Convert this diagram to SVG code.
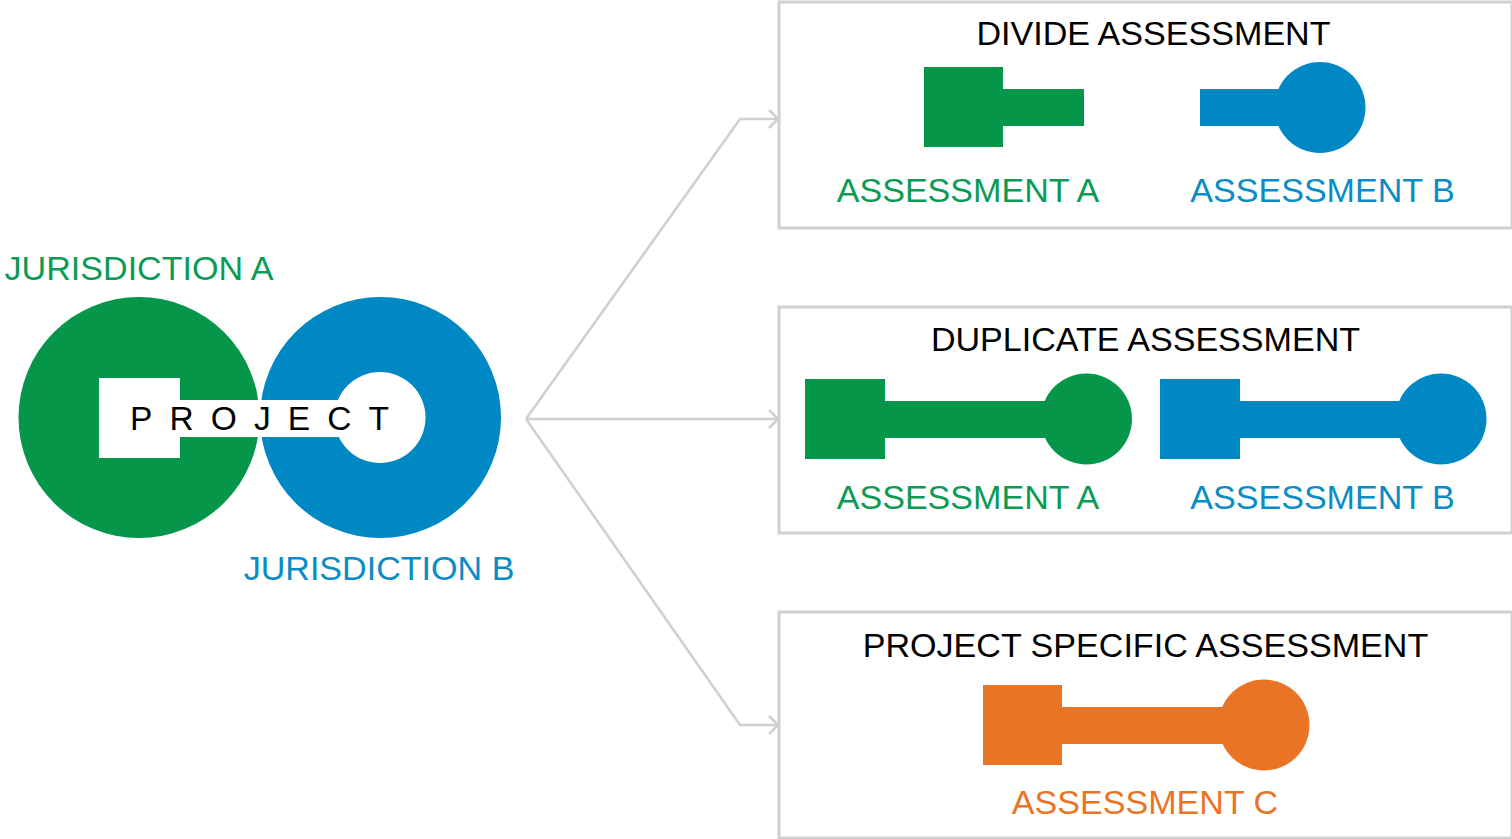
<svg xmlns="http://www.w3.org/2000/svg" width="1512" height="839" viewBox="0 0 1512 839">
<style>
text{font-family:"Liberation Sans",Arial,sans-serif;font-size:34.100px;text-anchor:middle}
.box{fill:#fff;stroke:#d0d0d0;stroke-width:3}
.conn{fill:none;stroke:#d0d0d0;stroke-width:2.600}
.g{fill:#05964a}.b{fill:#0088c4}.o{fill:#ea7425}.k{fill:#000}
.gt{fill:#0b9b54}.bt{fill:#0a8cc6}.ot{fill:#ea7425}
</style>
<rect width="1512" height="839" fill="#fff"/>
<g id="connectors" class="conn">
<path d="M526 419L740 119H778"/><path d="M526 419H778"/><path d="M526 419L740 725H778"/>
<path d="M769 110L778 119L769 128"/><path d="M769 410L778 419L769 428"/><path d="M769 716L778 725L769 734"/>
</g>
<g id="project">
<circle class="g" cx="139" cy="417.500" r="120.500"/>
<circle class="b" cx="380.500" cy="417.500" r="120.500"/>
<rect x="99" y="378" width="81" height="80" fill="#fff"/>
<rect x="180" y="400" width="170" height="37" fill="#fff"/>
<circle cx="380" cy="417.500" r="45.500" fill="#fff"/>
<text x="130" y="430" class="k" style="font-size:33.500px;letter-spacing:17.100px;text-anchor:start">PROJECT</text>
</g>
<g id="jurisdiction-a"><text x="139" y="280" class="gt">JURISDICTION A</text></g>
<g id="jurisdiction-b"><text x="379" y="580" class="bt">JURISDICTION B</text></g>
<g id="divide">
<rect class="box" x="779" y="2" width="733" height="226"/>
<text x="1153.500" y="44.500" class="k">DIVIDE ASSESSMENT</text>
<path class="g" d="M924 67H1003V89H1084V126H1003V147H924Z"/>
<rect class="b" x="1200" y="89" width="90" height="37"/><circle class="b" cx="1320" cy="107.500" r="45.500"/>
<text x="968" y="202" class="gt">ASSESSMENT A</text>
<text x="1322.500" y="202" class="bt">ASSESSMENT B</text>
</g>
<g id="duplicate">
<rect class="box" x="779" y="307" width="733" height="226"/>
<text x="1145.500" y="350.500" class="k">DUPLICATE ASSESSMENT</text>
<path class="g" d="M805 379H885V401H1060V438H885V459H805Z"/><circle class="g" cx="1086.500" cy="419" r="45.500"/>
<path class="b" d="M1160 379H1240V401H1415V438H1240V459H1160Z"/><circle class="b" cx="1441" cy="419" r="45.500"/>
<text x="968" y="509" class="gt">ASSESSMENT A</text>
<text x="1322.500" y="509" class="bt">ASSESSMENT B</text>
</g>
<g id="project-specific">
<rect class="box" x="779" y="612" width="733" height="226"/>
<text x="1145.500" y="656.500" class="k">PROJECT SPECIFIC ASSESSMENT</text>
<path class="o" d="M983 685H1062V707H1240V744H1062V765H983Z"/><circle class="o" cx="1264" cy="725" r="45.500"/>
<text x="1145" y="814" class="ot">ASSESSMENT C</text>
</g>
</svg>
